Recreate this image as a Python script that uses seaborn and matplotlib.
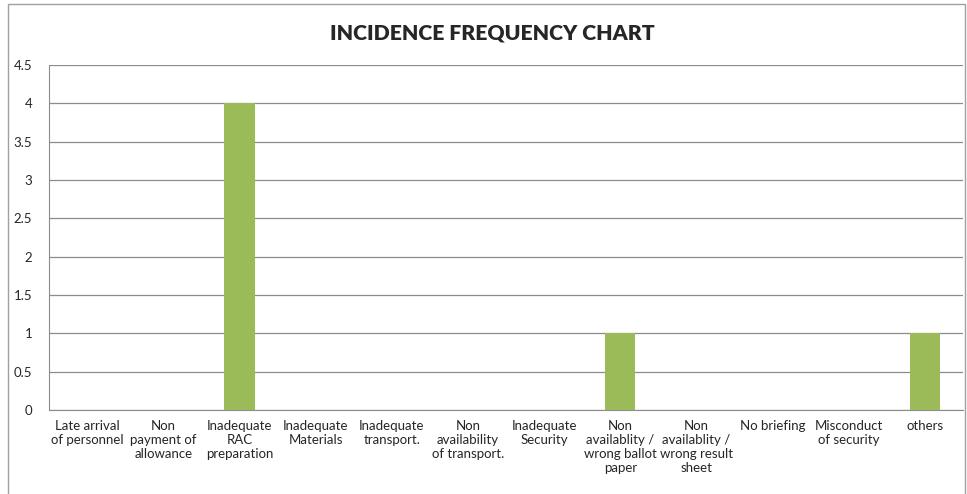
import pandas as pd
import numpy as np
import matplotlib.pyplot as plt
import seaborn as sns
from matplotlib.patches import Rectangle

categories = ["Late arrival\nof personnel", "Non\npayment of\nallowance", "Inadequate\nRAC\npreparation",
              "Inadequate\nMaterials", "Inadequate\ntransport.", "Non\navailability\nof transport.",
              "Inadequate\nSecurity", "Non\navailablity /\nwrong ballot\npaper",
              "Non\navailablity /\nwrong result\nsheet", "No briefing", "Misconduct\nof security", "others"]
counts = [0, 0, 4, 0, 0, 0, 0, 1, 0, 0, 0, 1]
yticks = [0, 0.5, 1, 1.5, 2, 2.5, 3, 3.5, 4, 4.5]

df = pd.DataFrame({"cause": categories, "count": counts})

sns.set_style("white")
plt.rcParams["font.family"] = ["Lato", "DejaVu Sans"]

fig = plt.figure(figsize=(9.67, 4.94), dpi=100)
ax = fig.add_axes([49 / 967, 1 - 410 / 494, 914 / 967, 345 / 494])

sns.barplot(data=df, x="cause", y="count", color="#9BBB59", width=0.4, saturation=1,
            linewidth=0, ax=ax, zorder=3)

ax.set_ylim(0, 4.5)
ax.set_yticks(yticks)
ax.set_yticklabels([f"{v:g}" for v in yticks], fontsize=9.5)
ax.yaxis.grid(True, color="#8c8c8c", linewidth=0.9)
ax.set_axisbelow(True)
ax.tick_params(axis="x", labelsize=9.5, length=0, pad=7)
ax.tick_params(axis="y", length=0, pad=12)
for lab in ax.get_xticklabels():
    lab.set_verticalalignment("top")
    lab.set_linespacing(1.2)
ax.set_xlabel("")
ax.set_ylabel("")
for side in ["top", "right"]:
    ax.spines[side].set_visible(False)
ax.spines["left"].set_color("#8c8c8c")
ax.spines["bottom"].set_color("#8c8c8c")

fig.text(492 / 967, 1 - 33 / 494, "INCIDENCE FREQUENCY CHART", ha="center", va="center",
         fontsize=15.3, fontweight="heavy")

# chart border
fig.patches.append(Rectangle((8 / 967, -0.1), 957 / 967, 1.1 - 4 / 494, transform=fig.transFigure,
                             fill=False, edgecolor="#a0a0a0", linewidth=1.0))

fig.savefig("out.png", dpi=100)
